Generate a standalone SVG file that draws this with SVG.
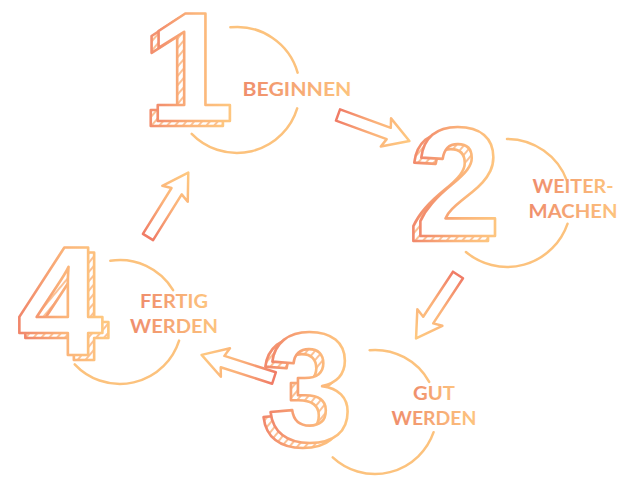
<svg xmlns="http://www.w3.org/2000/svg" width="626" height="481" viewBox="0 0 626 481">
<defs>
<linearGradient id="g" x1="0" y1="0" x2="1" y2="0"><stop offset="0" stop-color="#f0846a"/><stop offset="0.55" stop-color="#fbb47a"/><stop offset="1" stop-color="#fec880"/></linearGradient>
<linearGradient id="gt" x1="0" y1="0" x2="1" y2="0"><stop offset="0" stop-color="#ef8d6c"/><stop offset="1" stop-color="#fdc47e"/></linearGradient>
<linearGradient id="ga" x1="0" y1="0" x2="1" y2="0"><stop offset="0" stop-color="#f07c66"/><stop offset="0.5" stop-color="#fbb27a"/><stop offset="1" stop-color="#fec880"/></linearGradient>
<pattern id="hatch" width="6" height="6" patternUnits="userSpaceOnUse" patternTransform="rotate(40)"><rect width="6" height="6" fill="#fff"/><line x1="1" y1="0" x2="1" y2="6" stroke="#fbb27a" stroke-width="1.6"/></pattern>
<path id="arr" d="M0,-6 L54,-6 L51,-15 L76,0 L51,15 L54,6 L0,6 Z"/>
</defs>
<style>
.num{font-family:"Liberation Sans",Arial,sans-serif;font-weight:700;font-size:155px;text-anchor:middle;stroke:url(#g);stroke-width:2.6;stroke-linejoin:round}
.back{fill:url(#hatch)}
.front{fill:#fff}
.ring{fill:none;stroke:#fcc27d;stroke-width:2.5;stroke-linecap:round}
.lbl{font-family:Lato,"Open Sans",sans-serif;font-weight:700;font-size:19px;fill:url(#gt);text-anchor:middle}
.arrow{fill:#fff;stroke:url(#ga);stroke-width:2.5;stroke-linejoin:round}
</style>
<rect width="626" height="481" fill="#fff"/>
<g id="connectors">
<use href="#arr" class="arrow" transform="translate(338,115) rotate(20)"/>
<use href="#arr" class="arrow" transform="translate(458,275) rotate(123.5)"/>
<use href="#arr" class="arrow" transform="translate(274,378) rotate(-162.3)"/>
<use href="#arr" class="arrow" transform="translate(148,237) rotate(-58)"/>
</g>
<g id="node1">
<path class="ring" d="M230.4,27.3 A63,63 0 0 1 297.6,72.6 M297.2,108.4 A63,63 0 0 1 191.7,133.8"/>
<use href="#n1" class="back" transform="translate(-7,5)"/>
<g class="front"><text id="n1" class="num" x="191" y="121">1</text></g>
<text class="lbl" x="297" y="96" textLength="109" lengthAdjust="spacingAndGlyphs">BEGINNEN</text>
</g>
<g id="node2">
<path class="ring" d="M507,139 A64,64 0 0 1 567.1,181.1 M567.5,223.8 A64,64 0 0 1 465.9,252"/>
<use href="#n2" class="back" transform="translate(-7,5)"/>
<g class="front"><text id="n2" class="num" x="458" y="236">2</text></g>
<text class="lbl" x="573" y="193" textLength="81" lengthAdjust="spacingAndGlyphs">WEITER-</text>
<text class="lbl" x="573" y="218" textLength="89" lengthAdjust="spacingAndGlyphs">MACHEN</text>
</g>
<g id="node3">
<path class="ring" d="M369.6,350.2 A62,62 0 0 1 429.2,381.9 M433.6,432.2 A62,62 0 0 1 332.7,457.3"/>
<use href="#n3" class="back" transform="translate(-7,5)"/>
<g class="front"><text id="n3" class="num" x="310" y="441">3</text></g>
<text class="lbl" x="434" y="400" textLength="42" lengthAdjust="spacingAndGlyphs">GUT</text>
<text class="lbl" x="434" y="425" textLength="85" lengthAdjust="spacingAndGlyphs">WERDEN</text>
</g>
<g id="node4">
<path class="ring" d="M110.3,260.8 A62,62 0 0 1 173.1,290.1 M179.1,340.6 A62,62 0 0 1 74.7,364.3"/>
<use href="#n4" class="back" transform="translate(6,5)"/>
<g class="front"><text id="n4" class="num" x="60" y="355">4</text></g>
<text class="lbl" x="174" y="308" textLength="68" lengthAdjust="spacingAndGlyphs">FERTIG</text>
<text class="lbl" x="174" y="333" textLength="88" lengthAdjust="spacingAndGlyphs">WERDEN</text>
</g>
</svg>
